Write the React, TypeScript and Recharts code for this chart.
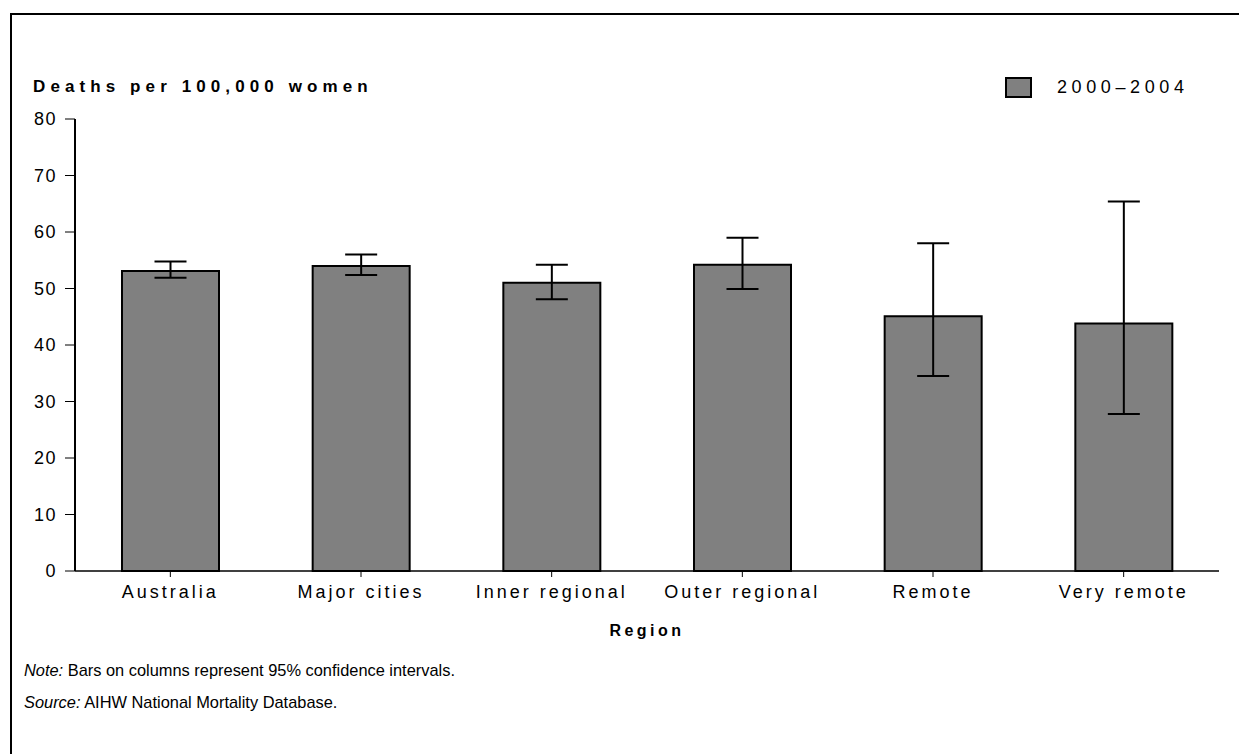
import React from 'react';
import { BarChart, Bar, XAxis, YAxis, ErrorBar, Legend, Label } from 'recharts';

const categories = ['Australia', 'Major cities', 'Inner regional', 'Outer regional', 'Remote', 'Very remote'];
const rates = [53.1, 54.0, 51.0, 54.2, 45.1, 43.8];
const ciLow = [51.9, 52.4, 48.1, 49.9, 34.5, 27.8];
const ciHigh = [54.8, 56.0, 54.2, 59.0, 58.0, 65.4];
const yTicks = [0, 10, 20, 30, 40, 50, 60, 70, 80];
const seriesName = '2000–2004';

const data = categories.map((c, i) => ({
  region: c,
  rate: rates[i],
  err: [rates[i] - ciLow[i], ciHigh[i] - rates[i]],
}));

const FONT = 'Arial, "Liberation Sans", Helvetica, sans-serif';

const LegendContent = () => (
  <div style={{ display: 'flex', alignItems: 'center', fontFamily: FONT }}>
    <div style={{ width: 23, height: 17, background: '#808080', border: '2px solid #000' }} />
    <span style={{ marginLeft: 25, fontSize: 18, letterSpacing: 4.6, color: '#000', lineHeight: '21px' }}>{seriesName}</span>
  </div>
);

export default function App() {
  return (
    <div style={{ position: 'absolute', left: 0, top: 0, width: 1239, height: 754, background: '#fff', overflow: 'hidden' }}>
      <div style={{ position: 'absolute', left: 10, top: 13, width: 1239, height: 760, borderTop: '2px solid #000', borderLeft: '2px solid #000' }} />
      <div style={{ position: 'absolute', left: 33, top: 77, fontFamily: FONT, fontWeight: 'bold', fontSize: 17, letterSpacing: 5.1, color: '#000', whiteSpace: 'nowrap' }}>
        Deaths per 100,000 women
      </div>
      <BarChart width={1239} height={754} data={data} margin={{ top: 98, right: 20, bottom: 143, left: 0 }}
        barSize={97} style={{ position: 'absolute', left: 0, top: 0 }}>
        <XAxis dataKey="region" height={40} stroke="#000" tickSize={6} tickMargin={8}
          tick={{ fill: '#000', fontSize: 18, fontFamily: FONT, letterSpacing: 3 }}
          axisLine={{ stroke: '#000', strokeWidth: 1.5 }} tickLine={{ stroke: '#000' }}>
          <Label value="Region" position="bottom" offset={14} fill="#000" fontSize={16} fontWeight="bold" fontFamily={FONT} letterSpacing={3.5} />
        </XAxis>
        <YAxis width={75} domain={[0, 80]} ticks={yTicks} interval={0} stroke="#000" tickSize={10} tickMargin={8}
          tick={{ fill: '#000', fontSize: 18, fontFamily: FONT, letterSpacing: 1.5 }}
          axisLine={{ stroke: '#000', strokeWidth: 2 }} tickLine={{ stroke: '#000' }} />
        <Legend verticalAlign="top" align="right" content={<LegendContent />}
          wrapperStyle={{ position: 'absolute', left: 1005, top: 77, width: 220 }} />
        <Bar dataKey="rate" name={seriesName} fill="#808080" stroke="#000" strokeWidth={2} isAnimationActive={false}>
          <ErrorBar dataKey="err" width={16} stroke="#000" strokeWidth={2} direction="y" />
        </Bar>
      </BarChart>
      <div style={{ position: 'absolute', left: 24, top: 661, fontFamily: FONT, fontSize: 16.4, color: '#000', whiteSpace: 'nowrap' }}>
        <i>Note:</i> Bars on columns represent 95% confidence intervals.
      </div>
      <div style={{ position: 'absolute', left: 24, top: 693, fontFamily: FONT, fontSize: 16.4, color: '#000', whiteSpace: 'nowrap' }}>
        <i>Source:</i> AIHW National Mortality Database.
      </div>
    </div>
  );
}
